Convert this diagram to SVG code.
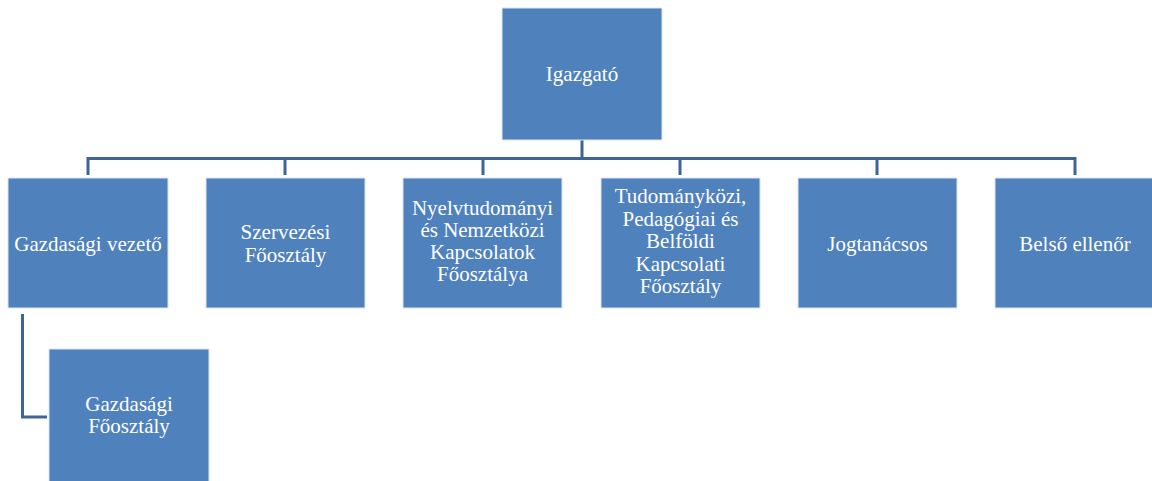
<svg xmlns="http://www.w3.org/2000/svg" width="1152" height="481" viewBox="0 0 1152 481">
<style>
.box{fill:#4F81BD;stroke:#DCE6F2;stroke-width:1}
.lbl{font-family:"Liberation Serif","Times New Roman",serif;font-size:21px;fill:#FFFFFF;text-anchor:middle}
.con{fill:none;stroke:#3F6594;stroke-width:3}
</style>
<rect width="1152" height="481" fill="#FFFFFF"/>
<g id="connectors">
<path class="con" d="M582 140 V158.5"/>
<path class="con" d="M88 175 V158.5 H1075 V175"/>
<path class="con" d="M285 158.5 V175 M483 158.5 V175 M680 158.5 V175 M877 158.5 V175"/>
<path class="con" d="M22.5 314 V417 H47"/>
</g>
<g id="igazgato">
<rect class="box" x="502" y="8" width="160" height="132"/>
<text class="lbl" x="582" y="81">Igazgató</text>
</g>
<g id="gazdasagi-vezeto">
<rect class="box" x="8" y="178" width="160" height="130"/>
<text class="lbl" x="88" y="251">Gazdasági vezető</text>
</g>
<g id="szervezesi">
<rect class="box" x="206" y="178" width="159" height="130"/>
<text class="lbl" x="285.5" y="239">Szervezési</text>
<text class="lbl" x="285.5" y="262">Főosztály</text>
</g>
<g id="nyelvtudomanyi">
<rect class="box" x="403" y="178" width="159" height="130"/>
<text class="lbl" x="482.5" y="215">Nyelvtudományi</text>
<text class="lbl" x="482.5" y="237">és Nemzetközi</text>
<text class="lbl" x="482.5" y="259">Kapcsolatok</text>
<text class="lbl" x="482.5" y="281">Főosztálya</text>
</g>
<g id="tudomanykozi">
<rect class="box" x="601" y="178" width="159" height="130"/>
<text class="lbl" x="680.5" y="203">Tudományközi,</text>
<text class="lbl" x="680.5" y="225.5">Pedagógiai és</text>
<text class="lbl" x="680.5" y="248">Belföldi</text>
<text class="lbl" x="680.5" y="270.5">Kapcsolati</text>
<text class="lbl" x="680.5" y="293">Főosztály</text>
</g>
<g id="jogtanacsos">
<rect class="box" x="798" y="178" width="159" height="130"/>
<text class="lbl" x="877.5" y="251">Jogtanácsos</text>
</g>
<g id="belso-ellenor">
<rect class="box" x="995" y="178" width="159" height="130"/>
<text class="lbl" x="1075" y="251">Belső ellenőr</text>
</g>
<g id="gazdasagi-foosztaly">
<rect class="box" x="49" y="349" width="160" height="133"/>
<text class="lbl" x="129" y="411">Gazdasági</text>
<text class="lbl" x="129" y="433">Főosztály</text>
</g>
</svg>
